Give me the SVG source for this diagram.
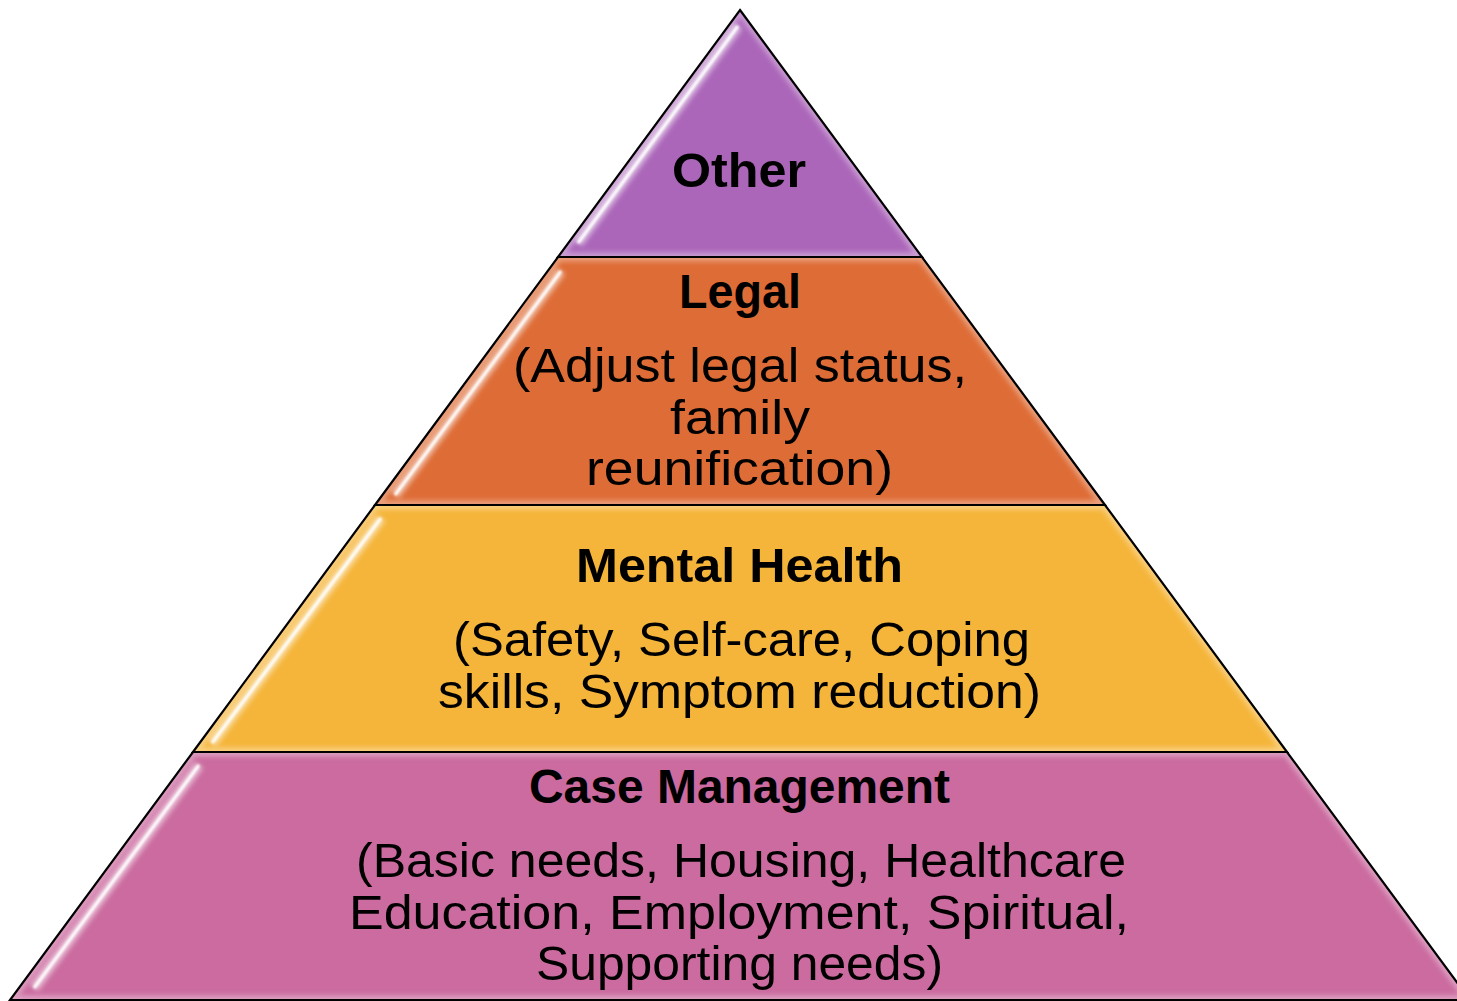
<svg xmlns="http://www.w3.org/2000/svg" width="1457" height="1001" viewBox="0 0 1457 1001">
  <style>
    .edge { fill: none; stroke: #000; stroke-width: 2.2; stroke-linejoin: miter; }
    .glow { fill: none; stroke: #fff; stroke-opacity: 0.35; stroke-width: 9; filter: url(#soft); }
    .shine { fill: none; stroke: #fff; stroke-width: 3; stroke-linecap: butt; filter: url(#tiny); }
    .shine-halo { fill: none; stroke: #fff; stroke-opacity: 0.55; stroke-width: 10; filter: url(#soft); }
    .title { font-family: "Liberation Sans", Arial, sans-serif; font-weight: bold; font-size: 48px; fill: #000; text-anchor: middle; }
    .body { font-family: "Liberation Sans", Arial, sans-serif; font-size: 48px; fill: #000; text-anchor: middle; }
  </style>
  <defs>
    <filter id="soft" x="-10%" y="-10%" width="120%" height="120%">
      <feGaussianBlur stdDeviation="2.5"/>
    </filter>
    <filter id="tiny" x="-10%" y="-10%" width="120%" height="120%">
      <feGaussianBlur stdDeviation="0.8"/>
    </filter>
    <clipPath id="clip-other"><polygon points="740,10 922,257 558,257"/></clipPath>
    <clipPath id="clip-legal"><polygon points="558,257 922,257 1105,505 375,505"/></clipPath>
    <clipPath id="clip-mental"><polygon points="375,505 1105,505 1287,752 193,752"/></clipPath>
    <clipPath id="clip-case"><polygon points="193,752 1287,752 1470,1000 10,1000"/></clipPath>
  </defs>

  <rect width="1457" height="1001" fill="#fff"/>

  <!-- top tier -->
  <g id="tier-other">
    <g clip-path="url(#clip-other)">
      <polygon points="740,10 922,257 558,257" fill="#AB66B9"/>
      <polygon points="740,10 922,257 558,257" class="glow"/>
      <path d="M738,26 L578,243" class="shine-halo"/>
      <path d="M738,26 L578,243" class="shine"/>
    </g>
    <polygon points="740,10 922,257 558,257" class="edge"/>
    <text class="title" x="739" y="187" textLength="134" lengthAdjust="spacingAndGlyphs">Other</text>
  </g>

  <!-- second tier -->
  <g id="tier-legal">
    <g clip-path="url(#clip-legal)">
      <polygon points="558,257 922,257 1105,505 375,505" fill="#DE6C36"/>
      <polygon points="558,257 922,257 1105,505 375,505" class="glow"/>
      <path d="M561,271 L395,495" class="shine-halo"/>
      <path d="M561,271 L395,495" class="shine"/>
    </g>
    <polygon points="558,257 922,257 1105,505 375,505" class="edge"/>
    <text class="title" x="740" y="308" textLength="122" lengthAdjust="spacingAndGlyphs">Legal</text>
    <text class="body" x="740" y="382" textLength="454" lengthAdjust="spacingAndGlyphs">(Adjust legal status,</text>
    <text class="body" x="740" y="434" textLength="140" lengthAdjust="spacingAndGlyphs">family</text>
    <text class="body" x="739.5" y="485" textLength="307" lengthAdjust="spacingAndGlyphs">reunification)</text>
  </g>

  <!-- third tier -->
  <g id="tier-mental-health">
    <g clip-path="url(#clip-mental)">
      <polygon points="375,505 1105,505 1287,752 193,752" fill="#F5B53A"/>
      <polygon points="375,505 1105,505 1287,752 193,752" class="glow"/>
      <path d="M381,518 L212,743" class="shine-halo"/>
      <path d="M381,518 L212,743" class="shine"/>
    </g>
    <polygon points="375,505 1105,505 1287,752 193,752" class="edge"/>
    <text class="title" x="739.5" y="582" textLength="327" lengthAdjust="spacingAndGlyphs">Mental Health</text>
    <text class="body" x="741.5" y="656" textLength="577" lengthAdjust="spacingAndGlyphs">(Safety, Self-care, Coping</text>
    <text class="body" x="739.5" y="708" textLength="603" lengthAdjust="spacingAndGlyphs">skills, Symptom reduction)</text>
  </g>

  <!-- base tier -->
  <g id="tier-case-management">
    <g clip-path="url(#clip-case)">
      <polygon points="193,752 1287,752 1470,1000 10,1000" fill="#CB6B9F"/>
      <polygon points="193,752 1287,752 1470,1000 10,1000" class="glow"/>
      <path d="M199,765 L34,988" class="shine-halo"/>
      <path d="M199,765 L34,988" class="shine"/>
    </g>
    <polygon points="193,752 1287,752 1470,1000 10,1000" class="edge"/>
    <text class="title" x="739.5" y="803" textLength="421" lengthAdjust="spacingAndGlyphs">Case Management</text>
    <text class="body" x="741" y="877" textLength="770" lengthAdjust="spacingAndGlyphs">(Basic needs, Housing, Healthcare</text>
    <text class="body" x="739" y="929" textLength="780" lengthAdjust="spacingAndGlyphs">Education, Employment, Spiritual,</text>
    <text class="body" x="739.5" y="980" textLength="407" lengthAdjust="spacingAndGlyphs">Supporting needs)</text>
  </g>
</svg>
